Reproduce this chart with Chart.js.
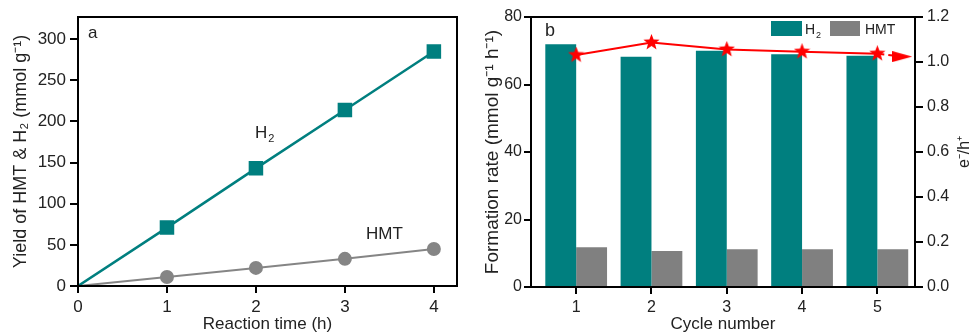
<!DOCTYPE html>
<html>
<head>
<meta charset="utf-8">
<script src="https://cdn.jsdelivr.net/npm/chart.js@4.4.1/dist/chart.umd.min.js"></script>
<style>
    html, body { margin: 0; padding: 0; background: #fff; }
    #wrap { position: relative; width: 969px; height: 335px; overflow: hidden; }
    #chartA { position: absolute; left: 0; top: 0; }
    #chartB { position: absolute; left: 480px; top: 0; }
</style>
</head>
<body>
<div id="wrap">
    <canvas id="chartA" width="480" height="335"></canvas>
    <canvas id="chartB" width="489" height="335"></canvas>
</div>
<script>
// panel a
const reactionTime = [0, 1, 2, 3, 4]
const h2Yield = [0, 71, 143, 214, 285]
const hmtYield = [0, 11, 22, 33, 45]
const yieldTicks = [0, 50, 100, 150, 200, 250, 300]

// panel b
const cycles = [1, 2, 3, 4, 5]
const h2Rate = [71.9, 68.2, 70.0, 69.0, 68.5]
const hmtRate = [11.8, 10.7, 11.2, 11.2, 11.2]
const ratio = [1.031, 1.087, 1.056, 1.046, 1.037]
const arrowEnd = { x: 5.33, y: 1.024 }
const rateTicks = [0, 20, 40, 60, 80]
const ratioTicks = [0, 0.2, 0.4, 0.6, 0.8, 1.0, 1.2]

const TEAL = '#007f7f'
const GREY = '#858585'
const RED = '#ff0000'
const FONT = "'Liberation Sans', Arial, sans-serif"

Chart.defaults.font.family = FONT
Chart.defaults.font.size = 16
Chart.defaults.color = '#222'

function makeStar(size, color) {
    const c = document.createElement('canvas')
    c.width = size; c.height = size
    const g = c.getContext('2d')
    const cx = size / 2, cy = size / 2, R = size / 2, r = R * 0.42
    g.beginPath()
    for (let i = 0; i < 10; i++) {
        const rad = i % 2 ? r : R
        const a = -Math.PI / 2 + i * Math.PI / 5
        g.lineTo(cx + rad * Math.cos(a), cy + rad * Math.sin(a))
    }
    g.closePath()
    g.fillStyle = color
    g.fill()
    return c
}

function makeArrow(w, h, color) {
    const c = document.createElement('canvas')
    c.width = w; c.height = h
    const g = c.getContext('2d')
    g.beginPath()
    g.moveTo(0, 0); g.lineTo(w, h / 2); g.lineTo(0, h); g.closePath()
    g.fillStyle = color
    g.fill()
    return c
}

const frame = {
    id: 'frame',
    afterDatasetsDraw(chart) {
        const { ctx, chartArea: { left, top, right, bottom } } = chart
        ctx.save()
        ctx.strokeStyle = '#000'
        ctx.lineWidth = 2
        ctx.strokeRect(left, top, right - left, bottom - top)
        ctx.restore()
    }
}

function subText(ctx, main, sub, x, y, size, subSize) {
    ctx.font = size + 'px ' + FONT
    ctx.fillText(main, x, y)
    const w = ctx.measureText(main).width
    ctx.font = subSize + 'px ' + FONT
    ctx.fillText(sub, x + w + 1, y + 4)
}

const axisStyle = (size) => ({
    grid: { drawOnChartArea: false, drawTicks: true, tickLength: 8, color: '#000', lineWidth: 2 },
    border: { display: true, color: '#000', width: 2 },
    ticks: { padding: 4, color: '#222', font: { size: size } }
})

// ---------- panel a ----------
const labelsA = {
    id: 'labelsA',
    afterDraw(chart) {
        const ctx = chart.ctx
        ctx.save()
        ctx.fillStyle = '#222'
        ctx.textBaseline = 'alphabetic'
        ctx.font = '17px ' + FONT
        ctx.fillText('a', 88, 38)
        subText(ctx, 'H', '2', 255, 138, 17, 11)
        ctx.font = '17px ' + FONT
        ctx.fillText('HMT', 366, 239)
        ctx.restore()
    }
}

const sa = axisStyle(17)
new Chart(document.getElementById('chartA'), {
    type: 'line',
    data: {
        datasets: [
            {
                label: 'H2',
                data: reactionTime.map((t, i) => ({ x: t, y: h2Yield[i] })),
                borderColor: TEAL,
                backgroundColor: TEAL,
                borderWidth: 2.5,
                pointStyle: 'rect',
                pointRadius: [0, 8.5, 8.5, 8.5, 8.5]
            },
            {
                label: 'HMT',
                data: reactionTime.map((t, i) => ({ x: t, y: hmtYield[i] })),
                borderColor: GREY,
                backgroundColor: GREY,
                borderWidth: 2,
                pointStyle: 'circle',
                pointRadius: [0, 6, 6, 6, 6]
            }
        ]
    },
    options: {
        responsive: false,
        animation: false,
        layout: { padding: { top: 17, right: 23, left: 0, bottom: 0 } },
        plugins: { legend: { display: false }, tooltip: { enabled: false } },
        scales: {
            x: {
                type: 'linear', min: 0, max: 4.26,
                afterBuildTicks: a => { a.ticks = reactionTime.map(v => ({ value: v })) },
                afterFit: s => { s.height = 49 },
                grid: { ...sa.grid, tickLength: 7 },
                border: sa.border,
                ticks: sa.ticks,
                title: { display: true, text: 'Reaction time (h)', padding: { top: 0, bottom: 0 }, font: { size: 17 } }
            },
            y: {
                type: 'linear', min: 0, max: 327,
                afterBuildTicks: a => { a.ticks = yieldTicks.map(v => ({ value: v })) },
                afterFit: s => { s.width = 78 },
                grid: sa.grid,
                border: sa.border,
                ticks: sa.ticks,
                title: { display: true, text: 'Yield of HMT & H₂ (mmol g⁻¹)', padding: { top: 10, bottom: 0 }, font: { size: 18 } }
            }
        }
    },
    plugins: [frame, labelsA]
})

// ---------- panel b ----------
const labelsB = {
    id: 'labelsB',
    afterDraw(chart) {
        const ctx = chart.ctx
        ctx.save()
        ctx.fillStyle = '#222'
        ctx.font = '18px ' + FONT
        ctx.fillText('b', 65, 36)
        // legend
        ctx.fillStyle = TEAL
        ctx.fillRect(291, 21, 31, 15)
        ctx.fillStyle = '#808080'
        ctx.fillRect(350, 21, 30, 15)
        ctx.fillStyle = '#222'
        subText(ctx, 'H', '2', 325, 34, 14, 9)
        ctx.font = '14px ' + FONT
        ctx.fillText('HMT', 385, 34)
        // right axis title
        ctx.translate(485, 152)
        ctx.rotate(-Math.PI / 2)
        ctx.textAlign = 'center'
        ctx.textBaseline = 'middle'
        ctx.font = '16px ' + FONT
        ctx.fillText('e⁻/h⁺', 0, 0)
        ctx.restore()
    }
}

const sb = axisStyle(16)
new Chart(document.getElementById('chartB'), {
    type: 'bar',
    data: {
        datasets: [
            {
                type: 'line',
                label: 'e-/h+',
                data: cycles.map((c, i) => ({ x: c, y: ratio[i] })),
                yAxisID: 'y1',
                borderColor: RED,
                borderWidth: 2,
                pointStyle: makeStar(17, RED),
                pointRadius: 7,
                order: 0
            },
            {
                type: 'line',
                label: 'arrow',
                data: [{ x: cycles[4], y: ratio[4] }, arrowEnd],
                yAxisID: 'y1',
                borderColor: RED,
                borderWidth: 2,
                borderDash: [7, 4],
                pointStyle: makeArrow(20, 11, RED),
                pointRadius: [0, 6],
                order: 1
            },
            {
                label: 'H2',
                data: cycles.map((c, i) => ({ x: c, y: h2Rate[i] })),
                backgroundColor: TEAL,
                categoryPercentage: 0.82,
                barPercentage: 1,
                order: 2
            },
            {
                label: 'HMT',
                data: cycles.map((c, i) => ({ x: c, y: hmtRate[i] })),
                backgroundColor: '#808080',
                categoryPercentage: 0.82,
                barPercentage: 1,
                order: 2
            }
        ]
    },
    options: {
        responsive: false,
        animation: false,
        layout: { padding: { top: 17, right: 0, left: 0, bottom: 0 } },
        plugins: { legend: { display: false }, tooltip: { enabled: false } },
        scales: {
            x: {
                type: 'linear', min: 0.4, max: 5.5, offset: false,
                afterBuildTicks: a => { a.ticks = cycles.map(v => ({ value: v })) },
                afterFit: s => { s.height = 48 },
                grid: { ...sb.grid, tickLength: 7, offset: false },
                border: sb.border,
                ticks: sb.ticks,
                title: { display: true, text: 'Cycle number', padding: { top: 0, bottom: 0 }, font: { size: 17 } }
            },
            y: {
                type: 'linear', min: 0, max: 80,
                afterBuildTicks: a => { a.ticks = rateTicks.map(v => ({ value: v })) },
                afterFit: s => { s.width = 51 },
                grid: { ...sb.grid, tickLength: 7 },
                border: sb.border,
                ticks: { ...sb.ticks, padding: 2 },
                title: { display: true, text: 'Formation rate (mmol g⁻¹ h⁻¹)', padding: { top: 1, bottom: 0 }, font: { size: 19 } }
            },
            y1: {
                type: 'linear', position: 'right', min: 0, max: 1.2,
                afterBuildTicks: a => { a.ticks = ratioTicks.map(v => ({ value: v })) },
                afterFit: s => { s.width = 54 },
                grid: sb.grid,
                border: sb.border,
                ticks: { ...sb.ticks, callback: v => v.toFixed(1) }
            }
        }
    },
    plugins: [frame, labelsB]
})
</script>
</body>
</html>
